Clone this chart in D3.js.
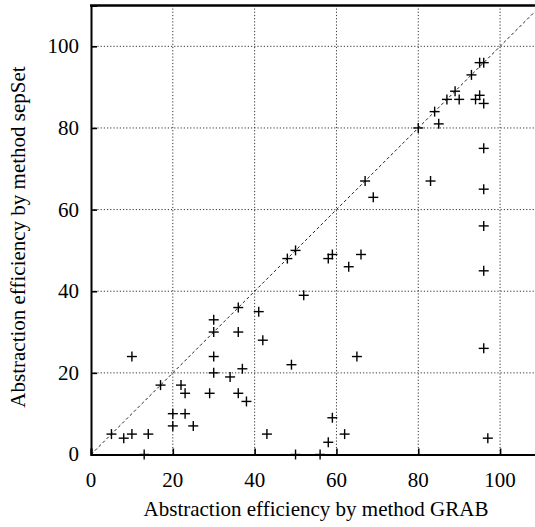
<!DOCTYPE html>
<html>
<head>
  <meta charset="utf-8" />
  <title>Abstraction efficiency: GRAB vs sepSet</title>
  <script src="https://d3js.org/d3.v7.min.js"></script>
  <style>
    body { margin: 0; background: #fff; }
    text { font-family: "Liberation Serif", "DejaVu Serif", serif; fill: #000; }
    .grid line { stroke: #333; stroke-width: 1; stroke-dasharray: 1.2,2; }
    .mark { stroke: #000; stroke-width: 1.4; }
  </style>
</head>
<body>
  <div id="chart"></div>
  <script>
    // values (x: GRAB, y: sepSet)
    const grabValues = [5, 8, 10, 14, 10, 17, 20, 20, 23, 25, 22, 23, 29, 30, 30, 30, 30, 34, 36, 36,
      36, 37, 38, 41, 42, 49, 43, 48, 50, 52, 59, 58, 66, 63, 65, 59, 58, 62, 96, 96,
      96, 97, 67, 69, 83, 96, 96, 80, 84, 85, 87, 89, 90, 93, 95, 96, 94, 95, 96, 13,
      50, 56];
    const sepSetValues = [5, 4, 5, 5, 24, 17, 10, 7, 10, 7, 17, 15, 15, 20, 24, 30, 33, 19, 30, 36,
      15, 21, 13, 35, 28, 22, 5, 48, 50, 39, 49, 48, 49, 46, 24, 9, 3, 5, 56, 45,
      26, 4, 67, 63, 67, 75, 65, 80, 84, 81, 87, 89, 87, 93, 96, 96, 87, 88, 86, 0,
      0, 0];
    const tickValues = [0, 20, 40, 60, 80, 100];
    const axisMax = 110;
    const xTitle = "Abstraction efficiency by method GRAB";
    const yTitle = "Abstraction efficiency by method sepSet";

    const width = 535;
    const height = 527;

    const points = grabValues.map((g, i) => ({ x: g, y: sepSetValues[i] }));

    const svg = d3.select("#chart")
      .append("svg")
      .attr("width", width)
      .attr("height", height);

    // plot runs past the right edge of the picture, like the cropped scan
    const xScale = d3.scaleLinear().domain([0, axisMax]).range([91, 541]);
    const yScale = d3.scaleLinear().domain([0, axisMax]).range([454.5, 5.5]);

    // dotted grid
    const grid = svg.append("g").attr("class", "grid");
    grid.selectAll(".vx")
      .data(tickValues.filter(d => d > 0))
      .join("line")
      .attr("x1", d => xScale(d)).attr("x2", d => xScale(d))
      .attr("y1", yScale(0)).attr("y2", yScale(axisMax));
    grid.selectAll(".hy")
      .data(tickValues.filter(d => d > 0))
      .join("line")
      .attr("x1", xScale(0)).attr("x2", xScale(axisMax))
      .attr("y1", d => yScale(d)).attr("y2", d => yScale(d));

    // y = x reference line
    svg.append("line")
      .attr("x1", xScale(0)).attr("y1", yScale(0))
      .attr("x2", xScale(axisMax)).attr("y2", yScale(axisMax))
      .attr("stroke", "#222")
      .attr("stroke-width", 1)
      .attr("stroke-dasharray", "3,2.5");

    // axes, ticks pointing inward
    const xAxis = d3.axisTop(xScale).tickValues(tickValues).tickSize(6).tickFormat("");
    const yAxis = d3.axisRight(yScale).tickValues(tickValues).tickSize(6).tickFormat("");

    const gx = svg.append("g")
      .attr("transform", `translate(0,${yScale(0)})`)
      .call(xAxis);
    const gy = svg.append("g")
      .attr("transform", `translate(${xScale(0)},0)`)
      .call(yAxis);
    [gx, gy].forEach(g => {
      g.select(".domain").attr("stroke", "#000").attr("stroke-width", 2);
      g.selectAll(".tick line").attr("stroke", "#000").attr("stroke-width", 1.6);
    });

    // top frame line
    svg.append("line")
      .attr("x1", xScale(0) - 1).attr("x2", xScale(axisMax))
      .attr("y1", yScale(axisMax)).attr("y2", yScale(axisMax))
      .attr("stroke", "#000").attr("stroke-width", 2.5);

    // tick labels
    svg.selectAll(".xlab")
      .data(tickValues)
      .join("text")
      .attr("x", d => xScale(d))
      .attr("y", 487)
      .attr("text-anchor", "middle")
      .attr("font-size", 21)
      .text(d => d);
    svg.selectAll(".ylab")
      .data(tickValues)
      .join("text")
      .attr("x", 79)
      .attr("y", d => yScale(d))
      .attr("dy", "0.33em")
      .attr("text-anchor", "end")
      .attr("font-size", 21)
      .text(d => d);

    // axis titles
    svg.append("text")
      .attr("x", 316)
      .attr("y", 516)
      .attr("text-anchor", "middle")
      .attr("font-size", 21)
      .text(xTitle);
    svg.append("text")
      .attr("transform", "translate(25,237) rotate(-90)")
      .attr("text-anchor", "middle")
      .attr("font-size", 21)
      .text(yTitle);

    // plus markers
    const arm = 5;
    const marks = svg.append("g")
      .selectAll("g")
      .data(points)
      .join("g")
      .attr("transform", d => `translate(${xScale(d.x)},${yScale(d.y)})`);
    marks.append("line").attr("class", "mark")
      .attr("x1", -arm).attr("x2", arm).attr("y1", 0).attr("y2", 0);
    marks.append("line").attr("class", "mark")
      .attr("x1", 0).attr("x2", 0).attr("y1", -arm).attr("y2", arm);
  </script>
</body>
</html>
